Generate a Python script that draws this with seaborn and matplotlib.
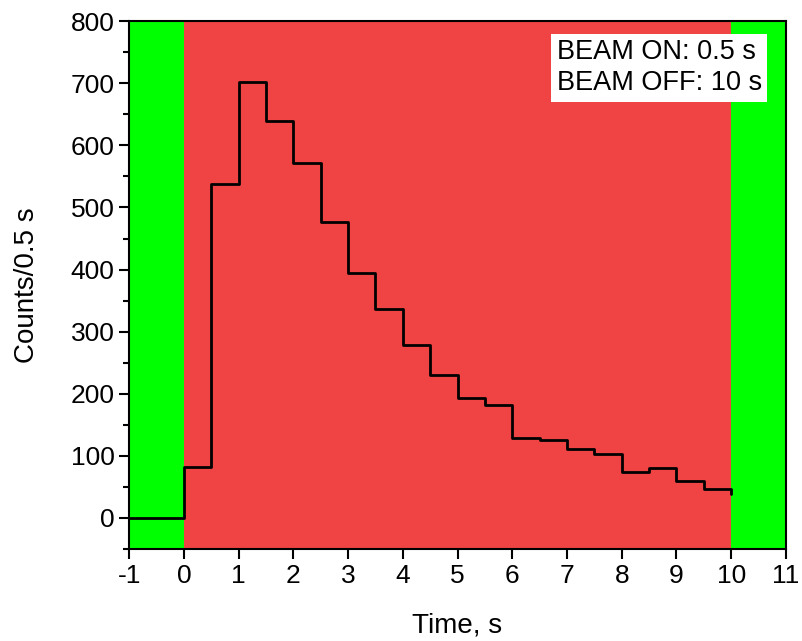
import seaborn as sns
import matplotlib.pyplot as plt
import pandas as pd

# bin start times (s) and counts per 0.5 s bin
time = [-1, 0, 0.5, 1, 1.5, 2, 2.5, 3, 3.5, 4, 4.5, 5, 5.5, 6, 6.5, 7, 7.5, 8, 8.5, 9, 9.5, 10]
counts = [0, 82, 537, 702, 639, 572, 476, 394, 336, 279, 231, 193, 182, 128, 125, 111, 103, 74, 81, 60, 47, 38]

beam_on = (0, 10)
beam_off = [(-1, 0), (10, 11)]

df = pd.DataFrame({'Time': time, 'Counts': counts})

sns.set_style("ticks")
plt.rcParams['font.family'] = ['Liberation Sans', 'DejaVu Sans']
plt.rcParams['axes.unicode_minus'] = False
plt.rcParams['text.color'] = 'black'
plt.rcParams['axes.labelcolor'] = 'black'
plt.rcParams['xtick.color'] = 'black'
plt.rcParams['ytick.color'] = 'black'
plt.rcParams['axes.edgecolor'] = 'black'

fig, ax = plt.subplots(figsize=(8.02, 6.41), dpi=100)
fig.subplots_adjust(left=0.161, right=0.980, top=0.967, bottom=0.1435)

# shaded regions
for a, b in beam_off:
    ax.axvspan(a, b, color='#00ff00', lw=0, zorder=0)
ax.axvspan(beam_on[0], beam_on[1], color='#f04343', lw=0, zorder=0)

sns.lineplot(data=df, x='Time', y='Counts', drawstyle='steps-post', color='black',
             linewidth=2, estimator=None, sort=False, ax=ax, zorder=3)

ax.set_xlim(-1, 11)
ax.set_ylim(-50, 800)
ax.set_xticks(range(-1, 12))
ax.set_yticks(range(0, 801, 100))
ax.set_yticks(range(-50, 801, 100), minor=True)
ax.tick_params(axis='both', which='major', direction='out', length=7, width=1.5, labelsize=19)
ax.tick_params(axis='y', which='minor', direction='out', length=4, width=1.5)
for s in ax.spines.values():
    s.set_linewidth(1.5)

ax.set_xlabel('Time, s', fontsize=20, labelpad=18)
ax.set_ylabel('Counts/0.5 s', fontsize=20, labelpad=22)

ax.text(0.651, 0.966, 'BEAM ON: 0.5 s\nBEAM OFF: 10 s', transform=ax.transAxes,
        ha='left', va='top', fontsize=19.5, linespacing=1.25,
        bbox=dict(boxstyle='square,pad=0.2', facecolor='white', edgecolor='none'))

plt.savefig('out.png', dpi=100)
